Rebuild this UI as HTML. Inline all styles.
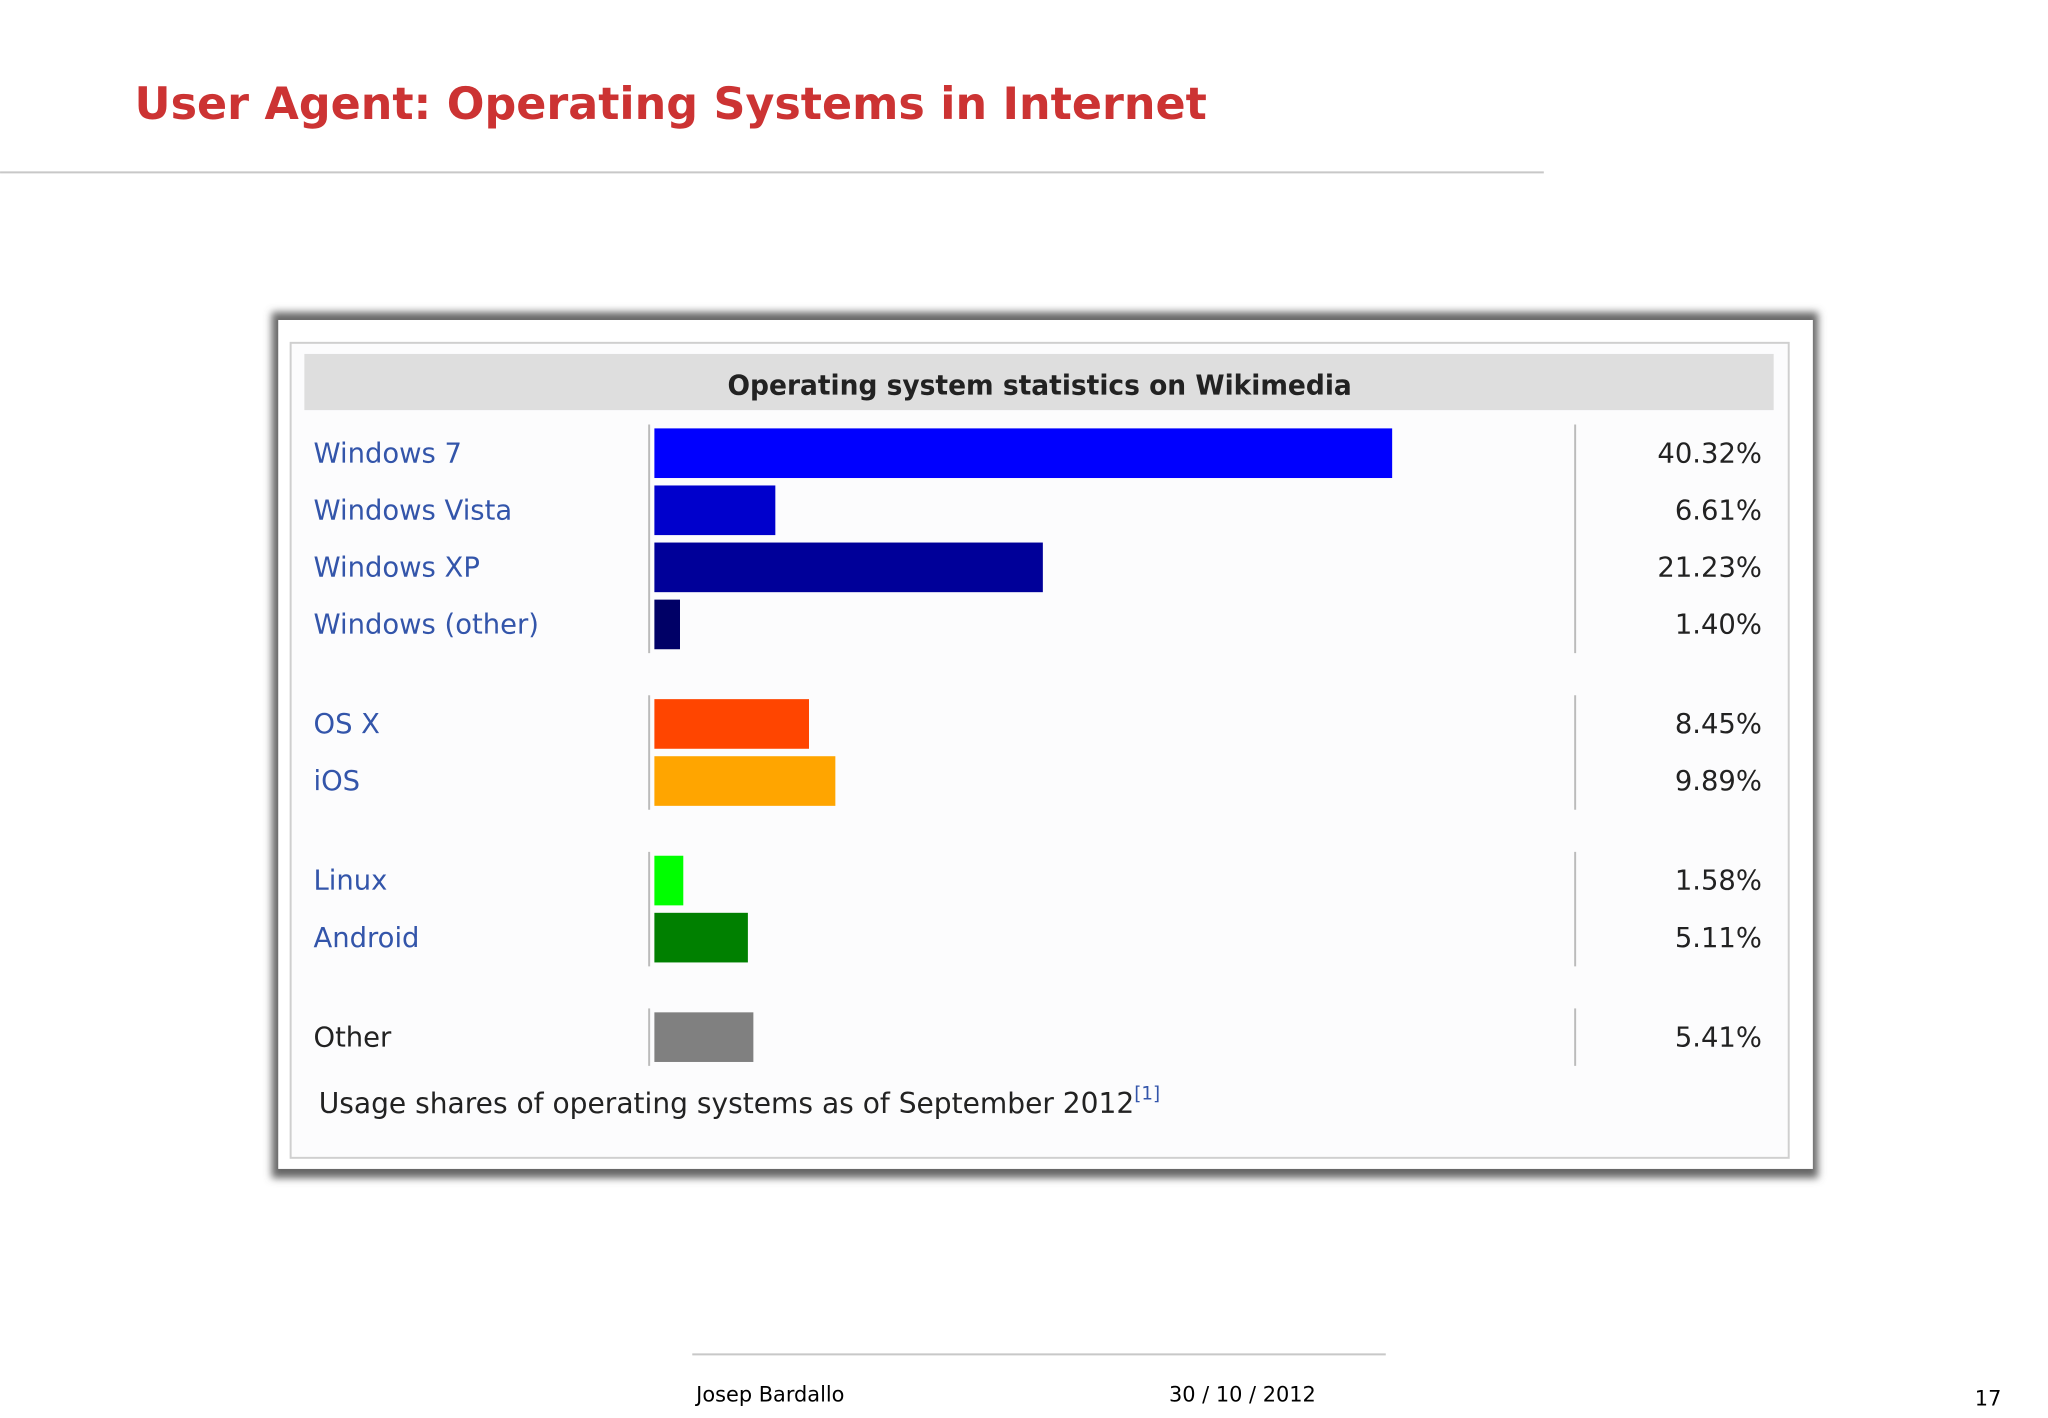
<!DOCTYPE html>
<html><head><meta charset="utf-8"><style>
html,body{margin:0;padding:0;background:#fff;}
svg{display:block;}
</style></head><body>
<svg id="s" width="2048" height="1418" viewBox="0 0 1568 1085.7" xmlns="http://www.w3.org/2000/svg" font-family="'DejaVu Sans','Liberation Sans',sans-serif">
<defs>
<filter id="sh" x="-5%" y="-5%" width="110%" height="110%"><feGaussianBlur stdDeviation="3"/></filter>
</defs>
<text x="103" y="91" font-size="34" font-weight="bold" fill="#cc3333">User Agent: Operating Systems in Internet</text>
<line x1="0" y1="132" x2="1182" y2="132" stroke="#c8c8c8" stroke-width="1.5"/>
<rect x="208" y="239" width="1184" height="663" fill="#666" filter="url(#sh)"/>
<rect x="213" y="245" width="1175" height="650" fill="#fff"/>
<rect x="222.5" y="262.5" width="1147" height="624" fill="#fcfcfd" stroke="#cfcfcf" stroke-width="1.5"/>
<rect x="233" y="271" width="1125" height="43" fill="#dedede"/>
<text x="796" y="302" font-size="21" font-weight="bold" text-anchor="middle" fill="#222" textLength="478" lengthAdjust="spacingAndGlyphs">Operating system statistics on Wikimedia</text>
<g id="rows"></g>
<text x="244" y="852" font-size="21.5" fill="#222">Usage shares of operating systems as of September 2012<tspan font-size="14" dy="-10" fill="#3355aa">[1]</tspan></text>
<line x1="530" y1="1037" x2="1061" y2="1037" stroke="#c8c8c8" stroke-width="1.5"/>
<text x="533" y="1073" font-size="16" fill="#000">Josep Bardallo</text>
<text x="895" y="1073" font-size="16" fill="#000">30 / 10 / 2012</text>
<text x="1512" y="1076" font-size="16" fill="#000">17</text>
</svg>
<script>
const categories = ["Windows 7","Windows Vista","Windows XP","Windows (other)","OS X","iOS","Linux","Android","Other"];
const values = [40.32,6.61,21.23,1.40,8.45,9.89,1.58,5.11,5.41];
const valueLabels = ["40.32%","6.61%","21.23%","1.40%","8.45%","9.89%","1.58%","5.11%","5.41%"];
const groups = [0,0,0,0,1,1,2,2,3];
const colors = ["#0000ff","#0000cc","#000099","#000066","#ff4500","#ffa500","#00ff00","#008000","#808080"];
const labelColors = ["#3355aa","#3355aa","#3355aa","#3355aa","#3355aa","#3355aa","#3355aa","#3355aa","#222"];
const NS="http://www.w3.org/2000/svg";
const rowsG=document.getElementById('rows');
const X0=501, PX_PER_PCT=14.01, PITCH=43.7, GAP=32.5, ROW_TOP=328, BH=38;
function xs(v){return v*PX_PER_PCT;}
function ys(i){return ROW_TOP+i*PITCH+groups[i]*GAP;}
function mk(tag,attrs){const e=document.createElementNS(NS,tag);for(const k in attrs)e.setAttribute(k,attrs[k]);rowsG.appendChild(e);return e;}
const ng=Math.max(...groups)+1;
for(let k=0;k<ng;k++){
  const idx=groups.map((v,i)=>v===k?i:-1).filter(i=>i>=0);
  const y1=ys(idx[0])-3, y2=ys(idx[idx.length-1])+BH+3;
  const l=mk('line',{x1:497,x2:497,y1:y1,y2:y2,stroke:'#bbb','stroke-width':1.5});
  
  
  const r=mk('line',{x1:1206,x2:1206,y1:y1,y2:y2,stroke:'#bbb','stroke-width':1.5});
  
  
}
categories.forEach((c,i)=>{
  const y=ys(i);
  const t=mk('text',{x:240,y:y+26,'font-size':21,fill:labelColors[i]});
  t.textContent=c;
  
  
  const b=mk('rect',{x:X0,y:y,width:xs(values[i]),height:BH,fill:colors[i]});
  
  
  const v=mk('text',{x:1349,y:y+26,'font-size':21,fill:'#222','text-anchor':'end'});
  v.textContent=valueLabels[i];
  
  
});
</script>
</body></html>
